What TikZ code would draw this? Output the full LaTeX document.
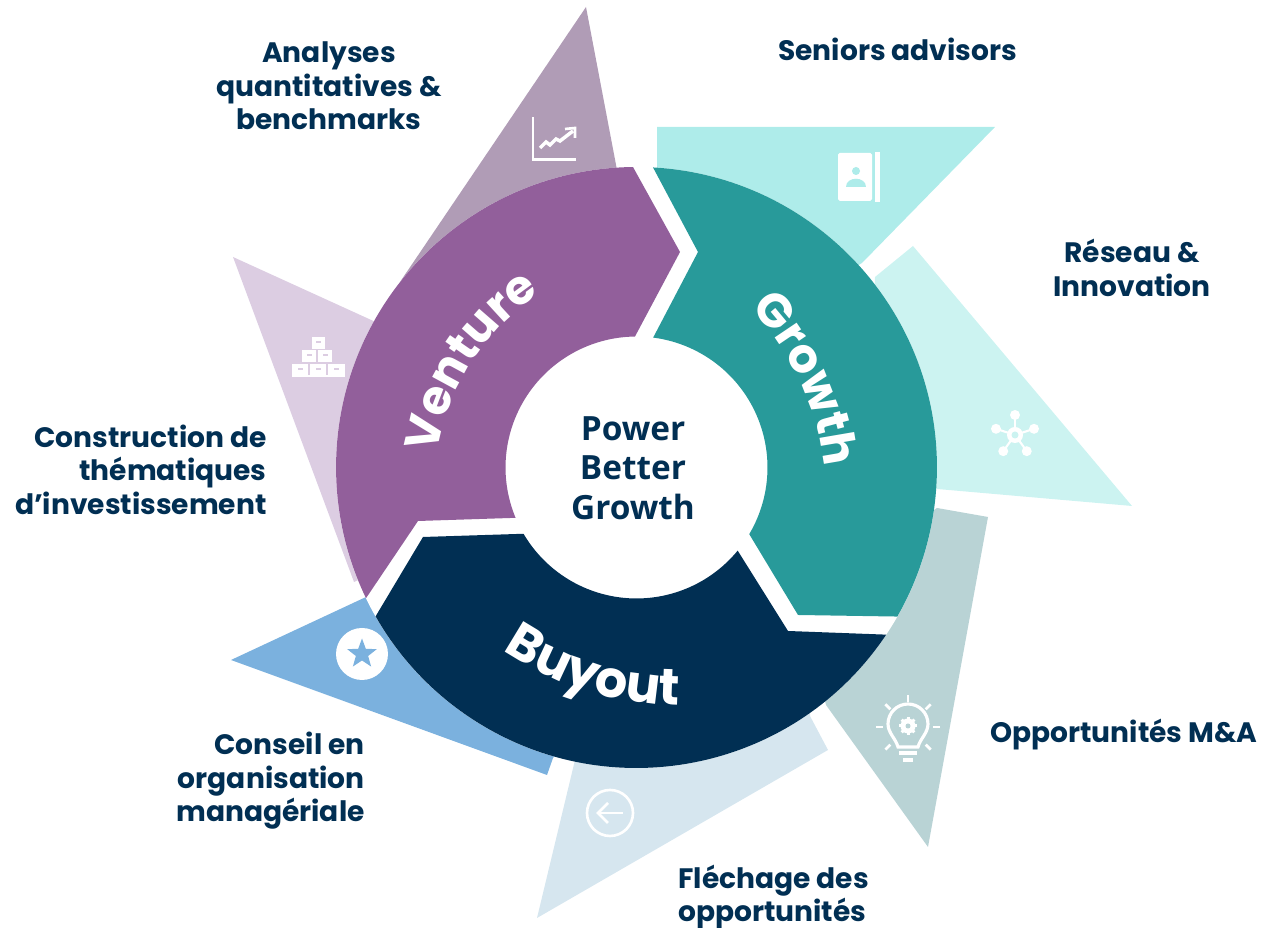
\documentclass[tikz,border=0pt]{standalone}
\usepackage{fontspec}
\setmainfont{Poppins}
\newfontfamily\centrefont{Open Sans}
\usetikzlibrary{shapes.geometric,decorations.text}
\definecolor{navy}{HTML}{012F53}
\definecolor{tealring}{HTML}{289A9A}
\definecolor{purplering}{HTML}{925F9B}
\definecolor{mauvetri}{HTML}{B09CB6}
\definecolor{lilactri}{HTML}{DCCDE2}
\definecolor{seniortri}{HTML}{AEECEA}
\definecolor{reseautri}{HTML}{CCF3F1}
\definecolor{opptri}{HTML}{B9D3D5}
\definecolor{flechtri}{HTML}{D6E6EF}
\definecolor{conseiltri}{HTML}{7BB1DE}
\tikzset{
  lbl/.style={text=navy,inner sep=0pt,font=\fontsize{16}{19}\selectfont\bfseries},
  mid/.style={text=navy,inner sep=0pt,align=center,font=\centrefont\fontsize{19}{22.4}\selectfont\bfseries},
  iconline/.style={draw=white,line width=1.7pt},
  ringword/.style={decorate,decoration={text along path,text align=center,text={#1}}}
}
\def\rw{\bfseries\fontsize{27}{27}\selectfont\color{white}}
\def\rwb{\bfseries\fontsize{29}{29}\selectfont\color{white}}
\begin{document}
\begin{tikzpicture}[x=0.02cm,y=0.02cm]
\useasboundingbox (0,0) rectangle (1268,928);
\coordinate (c) at (636.5,928-467.5);
% triangles
\fill[mauvetri] (586,928-7) -- (617,928-170) -- (400,928-282) -- cycle;
\fill[lilactri] (233,928-257) -- (380,928-324) -- (380,928-570) -- (354,928-582) -- cycle;
\fill[conseiltri] (231,928-660) -- (366,928-597) -- (420,928-650) -- (570,928-740) -- (553,928-758) -- (547,928-775) -- cycle;
\fill[flechtri] (537,928-918) -- (575,928-760) -- (700,928-700) -- (810,928-700) -- (810,928-716) -- (828,928-750) -- cycle;
\fill[opptri] (937,928-508) -- (988,928-517) -- (928,928-847) -- (826,928-705) -- (800,928-600) -- cycle;
\fill[reseautri] (875,928-277) -- (913,928-246) -- (1132,928-506) -- (937,928-489) -- (870,928-450) -- cycle;
\fill[seniortri] (657,928-127) -- (995,928-127) -- (862,928-263) -- (800,928-300) -- (657,928-300) -- cycle;
% white disc separating triangles from ring
\fill[white] (c) circle[radius=6.01cm];
% ring
\begin{scope}[shift={(c)}]
\fill[purplering] (90.67:300.5) arc[start angle=90.67,end angle=205.8,radius=6.01cm]
  -- (418-636.5,467.5-521) -- (202.6:131) arc[start angle=202.6,end angle=90.66,radius=2.62cm]
  -- (680-636.5,467.5-252) -- cycle;
\fill[tealring] (86.85:300.5) arc[start angle=86.85,end angle=-29.76,radius=6.01cm]
  -- (798-636.5,467.5-615) -- (-30.6:131) arc[start angle=-30.6,end angle=82.7,radius=2.62cm]
  -- (698-636.5,467.5-252) -- cycle;
\fill[navy] (423-636.5,467.5-537) -- (210.4:131) arc[start angle=210.4,end angle=320.6,radius=2.62cm]
  -- (788-636.5,467.5-631) -- (326.2:300.5) arc[start angle=326.2,end angle=209.7,radius=6.01cm] -- cycle;
\end{scope}
\begin{scope}[shift={(667,928-489)}]
\path[ringword={|\rw|Venture}] (177:233) arc[start angle=177,end angle=117,radius=4.66cm];
\end{scope}
\begin{scope}[shift={(551,928-498)}]
\path[ringword={|\rw|Growth}] (52:275) arc[start angle=52,end angle=-2,radius=5.5cm];
\end{scope}
\begin{scope}[shift={(680,928-390)}]
\path[ringword={|\rwb|Buyout}] (227.8:315) arc[start angle=227.8,end angle=277.8,radius=6.3cm];
\end{scope}
% icons
\draw[iconline] (533,928-117) -- (533,928-160) -- (576,928-160);
\draw[iconline,line width=2pt] (540,928-148) -- (546,928-142) -- (550,928-145) -- (556,928-139) -- (560,928-141) -- (573,928-131);
\draw[iconline,line width=1.5pt] (565,928-129) -- (575,928-128) -- (575,928-138);
% contact book
\fill[white,rounded corners=1pt] (838,928-153) rectangle (872,928-201);
\fill[white] (875,928-152) rectangle (880,928-202);
\fill[seniortri] (856,928-171) circle[radius=0.08cm];
\fill[seniortri] (846,928-187) .. controls (846,928-176) and (866,928-176) .. (866,928-187) -- cycle;
% network
\begin{scope}[shift={(1015,928-435)}]
\foreach \a in {90,162,18,234,306}{
  \draw[white,line width=1.2pt] (0,0) -- (\a:20);
  \fill[white] (\a:20) circle[radius=0.1cm];
}
\fill[white] (0,0) circle[radius=0.16cm];
\fill[reseautri] (0,0) circle[radius=0.07cm];
\end{scope}
% bulb
\begin{scope}[shift={(908,928-727)}]
\draw[white,line width=1.8pt] (-10,-20) .. controls (-12,-12) and (-20,-6) .. (-20,3) arc[start angle=180,end angle=0,radius=0.4cm] .. controls (20,-6) and (12,-12) .. (10,-20) -- cycle;
\foreach \a in {0,45,90,135,180,-45,-135}{
  \draw[white,line width=1.6pt] (\a:25) -- (\a:32);
}
\foreach \a in {0,45,...,315}{\draw[white,line width=1.7pt] (0,1) -- ++(\a:9);}
\fill[white] (0,1) circle[radius=0.15cm];
\fill[opptri] (0,1) circle[radius=0.05cm];
\draw[white,line width=1.8pt] (-9,-26) -- (9,-26);
\draw[white,line width=1.8pt] (-5,-33) -- (5,-33);
\end{scope}
% star badge
\fill[white] (362,928-654) circle[radius=0.52cm];
\node[star,star points=5,star point ratio=2.4,fill=conseiltri,minimum size=0.62cm,inner sep=0pt] (badgestar) at (362,928-654) {};
% back arrow
\draw[white,line width=1.5pt] (610,928-813) circle[radius=0.46cm];
\draw[white,line width=1.5pt] (623,928-813) -- (598,928-813);
\draw[white,line width=1.5pt] (608,928-803) -- (598,928-813) -- (608,928-823);
% pyramid of blocks
\foreach \x/\y/\w in {312/337/13, 302/350/14, 318/350/14, 292/364/16, 310/364/16, 328/364/17}{
  \fill[white] (\x,928-\y) rectangle (\x+\w,928-\y-12);
  \fill[lilactri] (\x+\w/2-2.5,928-\y-4) rectangle (\x+\w/2+2.5,928-\y-6);
}
\fill[white] (292,928-375) rectangle (345,928-377);
% labels
\node[lbl,align=center] (analyses) at (329,928-86) {Analyses\\quantitatives \&\\benchmarks};
\node[lbl,anchor=west] (seniors) at (778,928-49) {Seniors advisors};
\node[lbl,align=center] (reseau) at (1132,928-268) {Réseau \&\\Innovation};
\node[lbl,align=right,anchor=east] (construction) at (267,928-469.5) {Construction de\\thématiques\\d’investissement};
\node[lbl,anchor=west] (opportunites) at (990,928-735) {Opportunités M\&A};
\node[lbl,align=right,anchor=east] (conseil) at (365,928-781) {Conseil en\\organisation\\managériale};
\node[lbl,align=left,anchor=west] (flechage) at (678,928-897) {Fléchage des\\opportunités};
\node[mid] (power) at (633,928-468) {Power\\Better\\Growth};
\end{tikzpicture}
\end{document}
